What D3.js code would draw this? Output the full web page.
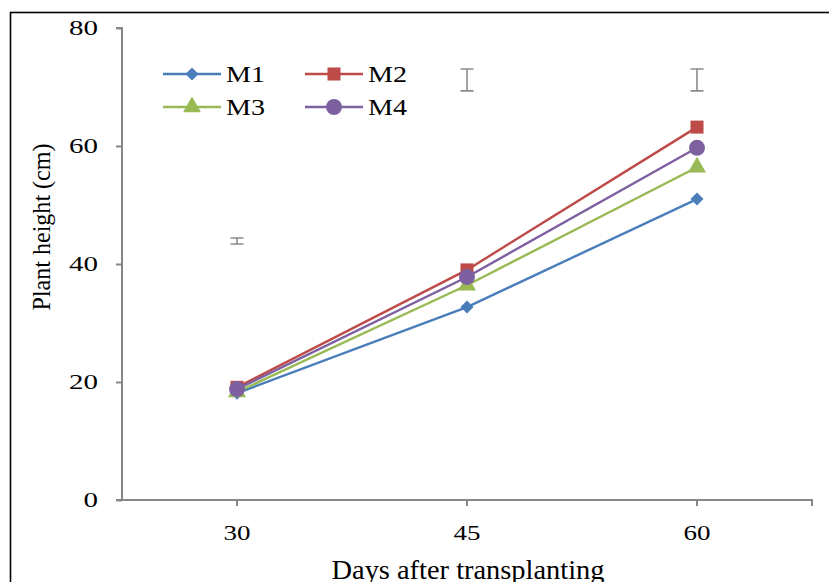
<!DOCTYPE html>
<html>
<head>
<meta charset="utf-8">
<script src="https://cdn.jsdelivr.net/npm/d3@7"></script>
<style>
  body { margin: 0; background: #fff; }
  svg { display: block; }
  text { font-family: "Liberation Serif", "Times New Roman", serif; fill: #000; }
</style>
</head>
<body>
<svg id="chart" width="829" height="582"></svg>
<script>
const days = ["30", "45", "60"];
const seriesNames = ["M1", "M2", "M3", "M4"];
const m1 = [18.1, 32.7, 51.0];
const m2 = [19.1, 39.0, 63.2];
const m3 = [18.3, 36.4, 56.4];
const m4 = [18.8, 37.8, 59.7];
// LSD bars drawn above the lines (centre, half length)
const barCentre = [43.9, 71.2, 71.2];
const barHalf = [0.5, 1.85, 1.85];
const yTicks = [0, 20, 40, 60, 80];

const colors = { M1: "#4a7ebb", M2: "#be4b48", M3: "#98b954", M4: "#7d60a0" };
const shapes = { M1: d3.symbolSquare, M2: d3.symbolSquare, M3: d3.symbolTriangle, M4: d3.symbolCircle };
const sizes = { M1: 85, M2: 170, M3: 140, M4: 200 };
const turns = { M1: 45, M2: 0, M3: 0, M4: 0 };
const values = { M1: m1, M2: m2, M3: m3, M4: m4 };

const svg = d3.select("#chart");
const margin = { left: 122, top: 28 };

// outer frame
svg.append("rect")
  .attr("x", 10.5).attr("y", 12.5)
  .attr("width", 830).attr("height", 600)
  .attr("fill", "none").attr("stroke", "#000").attr("stroke-width", 1.6);

const x = d3.scaleBand().domain(days).range([margin.left, 812]);
const y = d3.scaleLinear().domain([0, 80]).range([500, margin.top]);

// y axis
const gy = svg.append("g").attr("transform", `translate(${margin.left},0)`)
  .call(d3.axisLeft(y).tickValues(yTicks).tickSize(6).tickPadding(18).tickFormat(d3.format("d")));
gy.select(".domain").attr("stroke", "#868686").attr("stroke-width", 2)
  .attr("d", `M-6,${y(80)}H0V${y(0)}`);
gy.selectAll(".tick line").attr("stroke", "#868686").attr("stroke-width", 2);
gy.selectAll(".tick text")
  .attr("font-size", 22).attr("font-family", "Liberation Serif").attr("dy", "0.3em")
  .attr("textLength", d => String(d).length * 14.5).attr("lengthAdjust", "spacingAndGlyphs");

// x axis
const gx = svg.append("g").attr("transform", `translate(0,${y(0)})`)
  .call(d3.axisBottom(x).tickSize(0).tickPadding(24));
gx.select(".domain").attr("stroke", "#868686").attr("stroke-width", 2)
  .attr("d", `M${margin.left - 6},0H812V6`);
gx.selectAll(".tick text")
  .attr("font-size", 22).attr("font-family", "Liberation Serif")
  .attr("textLength", 27).attr("lengthAdjust", "spacingAndGlyphs");
gx.selectAll(".tick").append("line").attr("y2", 6).attr("stroke", "#868686").attr("stroke-width", 2);

// axis titles
svg.append("text")
  .attr("x", 468).attr("y", 579)
  .attr("text-anchor", "middle").attr("font-size", 27)
  .attr("textLength", 273).attr("lengthAdjust", "spacingAndGlyphs")
  .text("Days after transplanting");
svg.append("text")
  .attr("transform", "translate(50,227) rotate(-90)")
  .attr("text-anchor", "middle").attr("font-size", 26)
  .attr("textLength", 167).attr("lengthAdjust", "spacingAndGlyphs")
  .text("Plant height (cm)");

// error bars
const cx = d => x(d) + x.bandwidth() / 2;
const eb = svg.append("g").attr("stroke", "#8c8c8c").attr("stroke-width", 1.6).attr("fill", "none");
days.forEach((d, i) => {
  const top = y(barCentre[i] + barHalf[i]);
  const bot = y(barCentre[i] - barHalf[i]);
  eb.append("path").attr("d", `M${cx(d) - 6.5},${top}H${cx(d) + 6.5}M${cx(d)},${top}V${bot}M${cx(d) - 6.5},${bot}H${cx(d) + 6.5}`);
});

// lines and markers
const line = d3.line().x((v, i) => cx(days[i])).y(v => y(v));
seriesNames.forEach(name => {
  svg.append("path").datum(values[name])
    .attr("d", line).attr("fill", "none")
    .attr("stroke", colors[name]).attr("stroke-width", 2.4);
});
seriesNames.forEach(name => {
  svg.append("g").selectAll("path").data(values[name]).join("path")
    .attr("transform", (v, i) => `translate(${cx(days[i])},${y(v)}) rotate(${turns[name]})`)
    .attr("d", d3.symbol().type(shapes[name]).size(sizes[name]))
    .attr("fill", colors[name]);
});

// legend
const legendPos = { M1: [163, 74], M2: [305, 74], M3: [163, 107], M4: [305, 107] };
seriesNames.forEach(name => {
  const [lx, ly] = legendPos[name];
  const g = svg.append("g").attr("transform", `translate(${lx},${ly})`);
  g.append("line").attr("x1", 0).attr("x2", 58).attr("stroke", colors[name]).attr("stroke-width", 2.4);
  g.append("path").attr("transform", `translate(29,0) rotate(${turns[name]})`)
    .attr("d", d3.symbol().type(shapes[name]).size(sizes[name])).attr("fill", colors[name]);
  g.append("text").attr("x", 63).attr("dy", "0.33em").attr("font-size", 23)
    .attr("textLength", 39).attr("lengthAdjust", "spacingAndGlyphs").text(name);
});
</script>
</body>
</html>
